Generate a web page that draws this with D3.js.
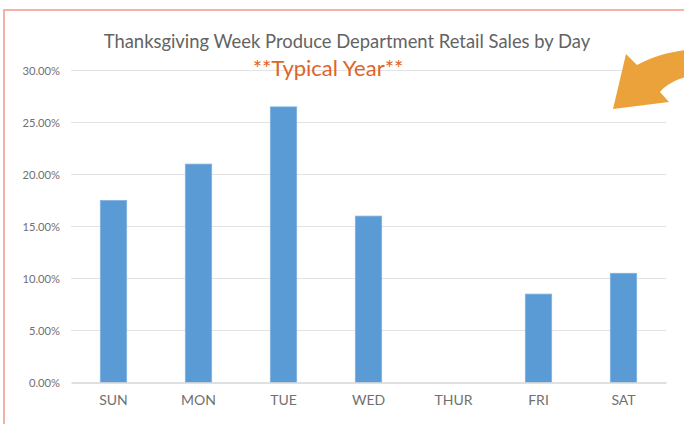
<!DOCTYPE html>
<html>
<head>
<meta charset="utf-8">
<script src="https://cdn.jsdelivr.net/npm/d3@7"></script>
<style>
  html, body { margin: 0; padding: 0; background: #fff; }
  svg { display: block; }
</style>
</head>
<body>
<svg id="chart" width="684" height="424"></svg>
<script>
const days = ["SUN", "MON", "TUE", "WED", "THUR", "FRI", "SAT"];
const salesShare = [0.175, 0.21, 0.265, 0.16, 0, 0.085, 0.105];
const yTicks = [0, 0.05, 0.10, 0.15, 0.20, 0.25, 0.30];
const titleText = "Thanksgiving Week Produce Department Retail Sales by Day";
const subtitleText = "**Typical Year**";

const svg = d3.select("#chart");
const plot = { left: 71, right: 666, top: 70.5, bottom: 382.5 };
const FONT = "Lato, 'Open Sans', sans-serif";

// frame
svg.append("rect").attr("x", 4).attr("y", 10).attr("width", 760).attr("height", 500)
  .attr("fill", "none").attr("stroke", "#F2B3A6").attr("stroke-width", 2);

const x = d3.scaleBand().domain(days).range([plot.left, plot.right])
  .paddingInner(0.69).paddingOuter(0.345);
const y = d3.scaleLinear().domain([0, 0.30]).range([plot.bottom, plot.top]);

// gridlines
svg.append("g").selectAll("line").data(yTicks.filter(d => d > 0)).join("line")
  .attr("x1", plot.left).attr("x2", plot.right)
  .attr("y1", d => y(d)).attr("y2", d => y(d))
  .attr("stroke", "#E3E3E3").attr("stroke-width", 1.2);

// y axis labels
const yAxis = d3.axisLeft(y).tickValues(yTicks).tickFormat(d3.format(".2%")).tickSize(0).tickPadding(0);
const yg = svg.append("g").attr("transform", `translate(${plot.left - 11},0)`).call(yAxis);
yg.select(".domain").remove();
yg.selectAll("text").attr("font-family", FONT).attr("font-size", 11.2)
  .attr("fill", "#707070");

// bars
svg.append("g").selectAll("rect").data(days.map((d, i) => ({ day: d, v: salesShare[i] })).filter(d => d.v > 0))
  .join("rect")
  .attr("x", d => x(d.day)).attr("width", x.bandwidth())
  .attr("y", d => y(d.v)).attr("height", d => y(0) - y(d.v))
  .attr("fill", "#5B9BD5").attr("stroke", "#7FB1E0").attr("stroke-width", 0.8);

// x axis
const xAxis = d3.axisBottom(x).tickSize(0).tickPadding(13);
const xg = svg.append("g").attr("transform", `translate(0,${plot.bottom})`).call(xAxis);
xg.select(".domain").attr("stroke", "#D6D6D6").attr("stroke-width", 1.3);
xg.selectAll("text").attr("font-family", FONT).attr("font-size", 14)
  .attr("fill", "#707070");

// title
svg.append("text").attr("x", 347).attr("y", 48).attr("text-anchor", "middle")
  .attr("font-family", FONT).attr("font-size", 18.4)
  .attr("fill", "#636363").text(titleText);
svg.append("text").attr("x", 328).attr("y", 76).attr("text-anchor", "middle")
  .attr("font-family", FONT).attr("font-size", 22)
  .attr("fill", "#DE6428").text(subtitleText);

// decorative arrow
svg.append("path")
  .attr("d", "M613,109 L626,54 L637,65 C652,57 668,52 686,50 L686,77 C675,80 666,85 660,92 L669,102 Z")
  .attr("fill", "#EBA23A");
</script>
</body>
</html>
